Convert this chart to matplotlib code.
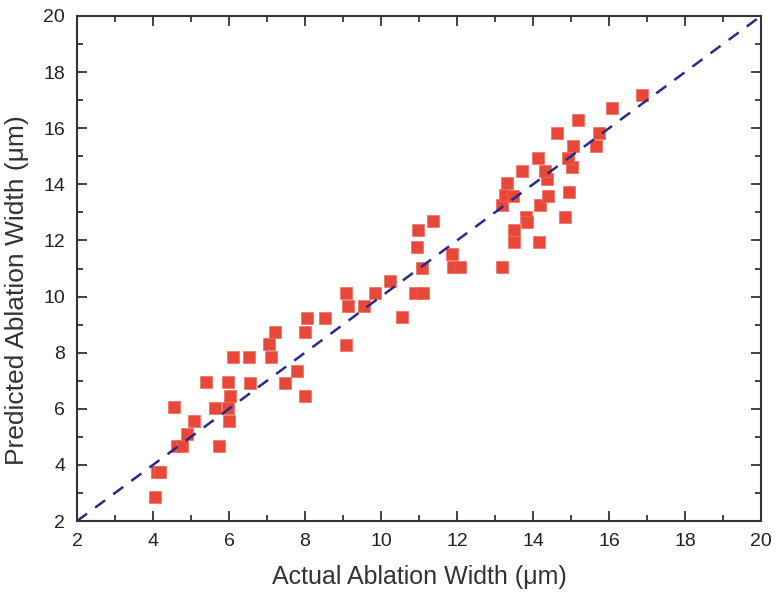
import matplotlib
matplotlib.use("Agg")
import matplotlib.pyplot as plt
from matplotlib.ticker import MultipleLocator

plt.rcParams['font.family'] = ['Liberation Sans', 'DejaVu Sans']

actual = [4.05, 4.11, 4.18, 4.55, 4.62, 4.76, 4.89, 5.09, 5.39, 5.62,
          5.74, 5.98, 6.03, 5.98, 5.99, 6.10, 6.52, 6.56, 7.04, 7.11,
          7.20, 7.48, 7.78, 7.99, 8.04, 8.00, 8.53, 9.09, 9.14, 9.55,
          9.08, 9.84, 10.24, 10.54, 10.89, 11.11, 11.07, 10.96, 10.98, 11.36,
          11.86, 11.89, 12.08, 13.18, 13.49, 14.16, 13.49, 13.82, 13.84, 14.85,
          13.18, 14.18, 13.26, 13.47, 14.39, 14.95, 13.31, 14.36, 13.70, 14.32,
          15.03, 14.13, 14.91, 15.06, 15.66, 14.64, 15.74, 15.19, 16.09, 16.88]
predicted = [2.87, 3.76, 3.76, 6.07, 4.67, 4.67, 5.10, 5.57, 6.96, 6.02,
             4.67, 6.96, 6.47, 6.02, 5.57, 7.86, 7.86, 6.93, 8.31, 7.83,
             8.75, 6.93, 7.36, 8.75, 9.22, 6.47, 9.22, 8.27, 9.66, 9.66,
             10.11, 10.11, 10.56, 9.26, 10.14, 10.14, 11.01, 11.78, 12.37, 12.69,
             11.52, 11.04, 11.04, 11.04, 11.93, 11.93, 12.37, 12.84, 12.67, 12.84,
             13.26, 13.26, 13.62, 13.58, 13.58, 13.74, 14.03, 14.18, 14.48, 14.48,
             14.63, 14.93, 14.93, 15.37, 15.37, 15.82, 15.82, 16.28, 16.72, 17.18]
ideal = [2, 20]
major_ticks = [2, 4, 6, 8, 10, 12, 14, 16, 18, 20]

fig = plt.figure(figsize=(7.77, 5.92), dpi=100)
ax = fig.add_axes([77/777, 71/592, 684/777, 505/592])

ax.plot(ideal, ideal, linestyle=(0, (5, 4)), color='#2b2a8c', linewidth=1.8, zorder=3)
ax.scatter(actual, predicted, marker='s', s=70, color='#e8483a', edgecolors='#f06a5c',
           linewidths=0.5, zorder=2)

ax.set_xlim(2, 20)
ax.set_ylim(2, 20)
ax.set_xticks(major_ticks)
ax.set_yticks(major_ticks)
ax.xaxis.set_minor_locator(MultipleLocator(1))
ax.yaxis.set_minor_locator(MultipleLocator(1))
ax.tick_params(which='both', direction='in', top=True, right=True, colors='#333333',
               labelcolor='#222222', labelsize=14, width=1.3)
ax.tick_params(which='major', length=7, pad=8.5)
ax.tick_params(which='minor', length=4)
for s in ax.spines.values():
    s.set_color('#333333')
    s.set_linewidth(1.5)

ax.set_xlabel('Actual Ablation Width (\u03bcm)', fontsize=18, color='#333333')
ax.set_ylabel('Predicted Ablation Width (\u03bcm)', fontsize=19, color='#333333')
ax.xaxis.label.set_va('center')
ax.yaxis.label.set_va('center')
ax.xaxis.set_label_coords(0.5, (521 - 577) / 505)
ax.yaxis.set_label_coords((17 - 77) / 684, 1 - (290 - 16) / 505)

fig.savefig('out.png', dpi=100)
